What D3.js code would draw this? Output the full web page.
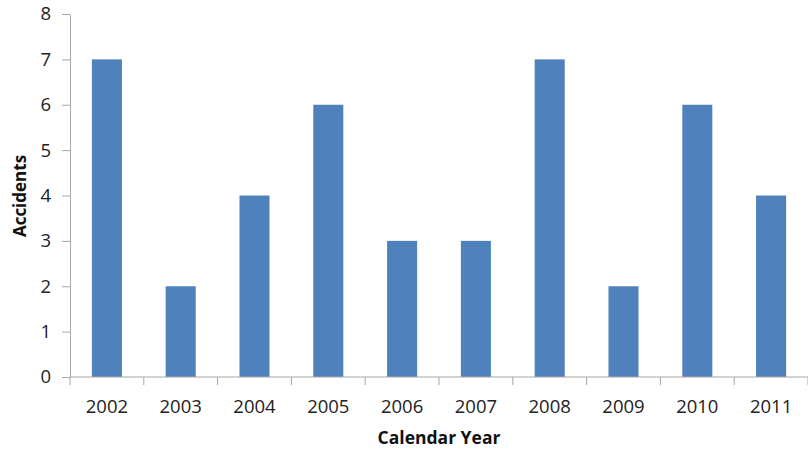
<!DOCTYPE html>
<html><head><meta charset="utf-8">
<script src="https://cdn.jsdelivr.net/npm/d3@7"></script>
<style>body{margin:0;background:#fff}svg{display:block}</style>
</head><body>
<svg id="c" width="808" height="450"></svg>
<script>
const categories = ["2002","2003","2004","2005","2006","2007","2008","2009","2010","2011"];
const accidents = [7,2,4,6,3,3,7,2,6,4];
const yTicks = [0,1,2,3,4,5,6,7,8];

const svg = d3.select("#c");
const m = {left:70, right:0, top:14, bottom:73};
const W = 808, H = 450;
const x = d3.scaleBand().domain(categories).range([m.left, W - m.right]).paddingInner(0.593).paddingOuter(0.2965);
const y = d3.scaleLinear().domain([0,8]).range([H - m.bottom, m.top]);
const font = "'Open Sans', 'Liberation Sans', sans-serif";
const axisColor = "#a6a6a6";

svg.append("g").selectAll("rect").data(accidents).join("rect")
  .attr("x", (d,i) => x(categories[i]))
  .attr("y", d => y(d))
  .attr("width", x.bandwidth())
  .attr("height", d => y(0) - y(d))
  .attr("fill", "#4f81bd");

// y axis
const ya = svg.append("g").attr("transform", `translate(${m.left},0)`)
  .call(d3.axisLeft(y).tickValues(yTicks).tickSize(8).tickPadding(11).tickSizeOuter(0));
ya.select(".domain").attr("stroke", axisColor);
ya.selectAll(".tick line").attr("stroke", axisColor);
ya.selectAll("text").attr("font-family", font).attr("font-size", 18.5).attr("fill", "#222");

// x axis
const xb = d3.scaleLinear().domain([0, categories.length]).range([m.left, W - m.right]);
const xa = svg.append("g").attr("transform", `translate(0,${y(0)})`);
xa.append("line").attr("x1", m.left).attr("x2", W).attr("stroke", axisColor);
xa.selectAll("line.t").data(d3.range(categories.length + 1)).join("line")
  .attr("class","t")
  .attr("x1", d => xb(d)).attr("x2", d => xb(d)).attr("y1", 0).attr("y2", 8)
  .attr("stroke", axisColor);
xa.selectAll("text").data(categories).join("text")
  .attr("x", d => x(d) + x.bandwidth()/2).attr("y", 36)
  .attr("text-anchor", "middle")
  .attr("font-family", font).attr("font-size", 18.5).attr("fill", "#222")
  .text(d => d);

svg.append("text").attr("x", 439).attr("y", 444).attr("text-anchor","middle")
  .attr("font-family", font).attr("font-size", 17.5).attr("font-weight","bold").attr("fill","#111")
  .text("Calendar Year");
svg.append("text").attr("transform","translate(26,196) rotate(-90)").attr("text-anchor","middle")
  .attr("font-family", font).attr("font-size", 17).attr("font-weight","bold").attr("fill","#111")
  .text("Accidents");
</script>
</body></html>
